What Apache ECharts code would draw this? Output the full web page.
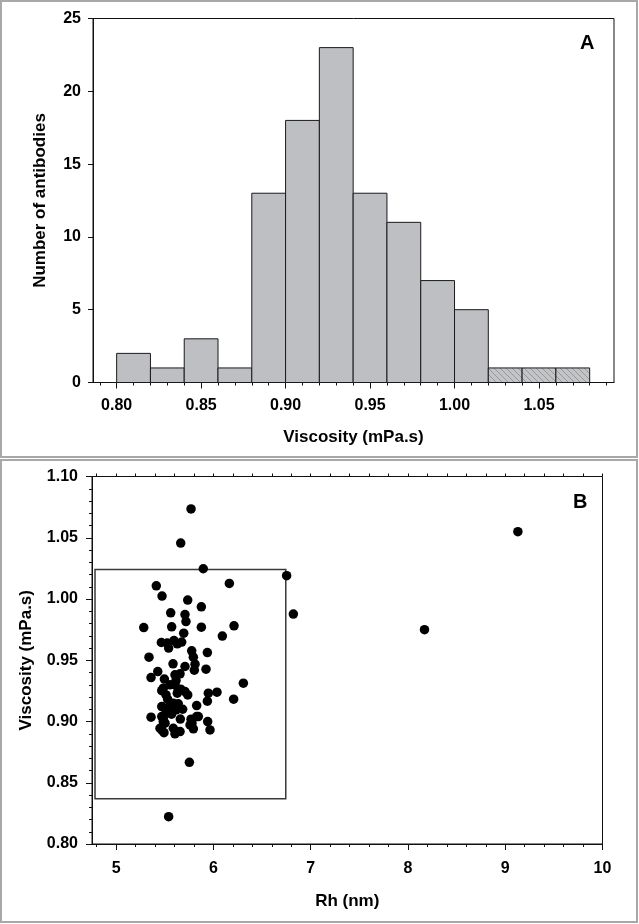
<!DOCTYPE html>
<html>
<head>
<meta charset="utf-8">
<script src="https://cdn.jsdelivr.net/npm/echarts@6/dist/echarts.min.js"></script>
<style>
  html, body { margin: 0; padding: 0; background: #ffffff; }
  #chart { width: 639px; height: 924px; }
</style>
</head>
<body>
<div id="chart"></div>
<script>
// ---------- Panel A: histogram data ----------
const histBinStart = [0.80, 0.82, 0.84, 0.86, 0.88, 0.90, 0.92, 0.94, 0.96, 0.98, 1.00, 1.02, 1.04, 1.06];
const histBinEnd   = [0.82, 0.84, 0.86, 0.88, 0.90, 0.92, 0.94, 0.96, 0.98, 1.00, 1.02, 1.04, 1.06, 1.08];
const histCounts   = [2, 1, 3, 1, 13, 18, 23, 13, 11, 7, 5, 1, 1, 1];
const histHatched  = [0, 0, 0, 0, 0, 0, 0, 0, 0, 0, 0, 1, 1, 1];

const histXTicks = [0.80, 0.85, 0.90, 0.95, 1.00, 1.05];
const histXMinorTicks = [0.79, 0.80, 0.81, 0.82, 0.83, 0.84, 0.85, 0.86, 0.87, 0.88, 0.89, 0.90,
  0.91, 0.92, 0.93, 0.94, 0.95, 0.96, 0.97, 0.98, 0.99, 1.00, 1.01, 1.02, 1.03, 1.04, 1.05,
  1.06, 1.07, 1.08, 1.09];
const histYTicks = [0, 5, 10, 15, 20, 25];

// ---------- Panel B: scatter data ----------
const rhValues = [
  5.77, 5.664, 5.896, 6.753, 5.413, 6.164, 5.472, 5.736, 5.876, 6.822,
  5.561, 5.708, 5.718, 5.284, 5.571, 5.876, 6.212, 5.695, 6.092, 5.465,
  5.526, 5.595, 5.629, 5.674, 5.54, 5.777, 5.794, 5.938, 5.338, 5.585,
  5.708, 5.811, 5.924, 5.428, 5.804, 5.359, 5.496, 5.605, 5.657, 5.554,
  5.616, 6.308, 5.469, 5.513, 5.629, 5.664, 5.708, 5.736, 5.948, 6.037,
  5.938, 6.208, 5.828, 5.469, 5.554, 5.639, 5.616, 5.684, 5.513, 5.359,
  5.485, 5.503, 5.77, 5.828, 5.76, 5.941, 5.451, 5.588, 5.794, 5.965,
  5.492, 5.605, 5.657, 5.753, 5.54, 8.17, 9.13, 5.485, 5.605, 5.639,
  5.588, 5.469, 5.485, 5.469, 5.78, 5.845, 5.53, 5.57, 5.66, 5.52
];
const viscValues = [
  1.0735, 1.0457, 1.0247, 1.019, 1.0108, 1.0127, 1.0024, 0.9991, 0.9936, 0.9877,
  0.9887, 0.9873, 0.9816, 0.9767, 0.9773, 0.9770, 0.9781, 0.9721, 0.9697, 0.9645,
  0.9640, 0.9661, 0.9634, 0.9648, 0.9599, 0.9577, 0.9525, 0.9563, 0.9525, 0.9471,
  0.9449, 0.9468, 0.9427, 0.9408, 0.9419, 0.9359, 0.9346, 0.9381, 0.9389, 0.9299,
  0.9334, 0.9313, 0.9252, 0.9217, 0.9231, 0.9264, 0.9244, 0.9217, 0.9231, 0.9239,
  0.9166, 0.9182, 0.9130, 0.9122, 0.9130, 0.9144, 0.9095, 0.9100, 0.9073, 0.9035,
  0.9027, 0.8986, 0.9019, 0.9040, 0.8972, 0.8999, 0.8945, 0.8945, 0.8940, 0.8931,
  0.8909, 0.8899, 0.8918, 0.8667, 0.8223, 0.975, 1.055, 0.9272, 0.9299, 0.9258,
  0.9148, 0.9040, 0.8999, 0.8931, 0.8986, 0.9040, 0.9180, 0.9060, 0.9020, 0.9100
];
const boxRh = [4.783, 6.744];
const boxVisc = [0.837, 1.024];

const scatXTicks = [5, 6, 7, 8, 9, 10];
const scatXMinorTicks = [4.8, 5.0, 5.2, 5.4, 5.6, 5.8, 6.0, 6.2, 6.4, 6.6, 6.8, 7.0, 7.2, 7.4,
  7.6, 7.8, 8.0, 8.2, 8.4, 8.6, 8.8, 9.0, 9.2, 9.4, 9.6, 9.8, 10.0];

// ---------- hatch pattern ----------
function makeHatch() {
  const c = document.createElement('canvas');
  c.width = 6; c.height = 6;
  const g = c.getContext('2d');
  g.fillStyle = '#c3c4c7';
  g.fillRect(0, 0, 6, 6);
  g.strokeStyle = '#858585';
  g.lineWidth = 0.7;
  g.beginPath();
  g.moveTo(-1, -1); g.lineTo(7, 7);
  g.moveTo(-1, 5); g.lineTo(1, 7);
  g.moveTo(5, -1); g.lineTo(7, 1);
  g.stroke();
  return { image: c, repeat: 'repeat' };
}
const hatchFill = makeHatch();

const FONT = "'Liberation Sans', Arial, sans-serif";
const histData = histBinStart.map((s, i) => [s, histBinEnd[i], histCounts[i], histHatched[i]]);
const scatData = rhValues.map((r, i) => [r, viscValues[i]]);

const chart = echarts.init(document.getElementById('chart'), null, { renderer: 'canvas' });

const labelStyle = { color: '#000', fontFamily: FONT, fontWeight: 'bold', fontSize: 16 };
const nameStyle = { color: '#000', fontFamily: FONT, fontWeight: 'bold', fontSize: 17 };

const option = {
  backgroundColor: '#ffffff',
  animation: false,
  textStyle: { fontFamily: FONT },
  graphic: [
    { type: 'rect', shape: { x: 1, y: 1, width: 636, height: 456 }, style: { fill: 'none', stroke: '#a8a8a8', lineWidth: 2 }, z: 100 },
    { type: 'rect', shape: { x: 1, y: 460, width: 636, height: 462 }, style: { fill: 'none', stroke: '#a8a8a8', lineWidth: 2 }, z: 100 },
    { type: 'text', left: 580, top: 33, style: { text: 'A', font: 'bold 20px ' + FONT, fill: '#000' } },
    { type: 'text', left: 573, top: 492, style: { text: 'B', font: 'bold 20px ' + FONT, fill: '#000' } }
  ],
  grid: [
    { left: 93, right: 25, top: 18.5, height: 364, show: true, borderColor: '#111', borderWidth: 1, backgroundColor: 'transparent', outerBoundsMode: 'none' },
    { left: 92, right: 36.5, top: 476.5, height: 367.5, show: true, borderColor: '#111', borderWidth: 1, backgroundColor: 'transparent', outerBoundsMode: 'none' }
  ],
  xAxis: [
    { // A major
      type: 'value', gridIndex: 0, position: 'bottom', min: 0.786, max: 1.0944,
      name: 'Viscosity (mPa.s)', nameLocation: 'middle', nameGap: 46, nameTextStyle: nameStyle, nameMoveOverlap: false,
      axisLine: { show: true, onZero: false, lineStyle: { color: '#111', width: 1 } },
      axisTick: { show: true, inside: false, length: 6, lineStyle: { color: '#111' }, customValues: histXTicks },
      axisLabel: Object.assign({ margin: 15, customValues: histXTicks, formatter: v => v.toFixed(2) }, labelStyle),
      splitLine: { show: false }
    },
    { // A minor ticks
      type: 'value', gridIndex: 0, position: 'bottom', min: 0.786, max: 1.0944,
      axisLine: { show: false, onZero: false },
      axisTick: { show: true, inside: false, length: 3, lineStyle: { color: '#111' }, customValues: histXMinorTicks },
      axisLabel: { show: false },
      splitLine: { show: false }
    },
    { // B major
      type: 'value', gridIndex: 1, position: 'bottom', min: 4.752, max: 10.0,
      name: 'Rh (nm)', nameLocation: 'middle', nameGap: 49, nameTextStyle: nameStyle, nameMoveOverlap: false,
      axisLine: { show: true, onZero: false, lineStyle: { color: '#111', width: 1 } },
      axisTick: { show: true, inside: false, length: 6, lineStyle: { color: '#111' }, customValues: scatXTicks },
      axisLabel: Object.assign({ margin: 17, customValues: scatXTicks, formatter: v => String(Math.round(v)) }, labelStyle),
      splitLine: { show: false }
    },
    { // B minor ticks bottom
      type: 'value', gridIndex: 1, position: 'bottom', min: 4.752, max: 10.0,
      axisLine: { show: false, onZero: false },
      axisTick: { show: true, inside: false, length: 3, lineStyle: { color: '#111' }, customValues: scatXMinorTicks },
      axisLabel: { show: false },
      splitLine: { show: false }
    },
    { // B minor ticks top
      type: 'value', gridIndex: 1, position: 'top', min: 4.752, max: 10.0,
      axisLine: { show: false, onZero: false },
      axisTick: { show: true, inside: false, length: 3, lineStyle: { color: '#111' }, customValues: scatXMinorTicks },
      axisLabel: { show: false },
      splitLine: { show: false }
    }
  ],
  yAxis: [
    {
      type: 'value', gridIndex: 0, min: 0, max: 25, interval: 5,
      name: 'Number of antibodies', nameLocation: 'middle', nameGap: 44, nameTextStyle: nameStyle, nameMoveOverlap: false,
      axisLine: { show: true, onZero: false, lineStyle: { color: '#111', width: 1 } },
      axisTick: { show: true, inside: false, length: 5, lineStyle: { color: '#111' } },
      axisLabel: Object.assign({ margin: 12, formatter: v => String(Math.round(v)) }, labelStyle),
      splitLine: { show: false }
    },
    {
      type: 'value', gridIndex: 1, min: 0.80, max: 1.10, interval: 0.05,
      name: 'Viscosity (mPa.s)', nameLocation: 'middle', nameGap: 57, nameTextStyle: nameStyle, nameMoveOverlap: false,
      axisLine: { show: true, onZero: false, lineStyle: { color: '#111', width: 1 } },
      axisTick: { show: true, inside: false, length: 6, lineStyle: { color: '#111' } },
      minorTick: { show: true, splitNumber: 5, length: 3, lineStyle: { color: '#111' } },
      axisLabel: Object.assign({ margin: 14, formatter: v => v.toFixed(2) }, labelStyle),
      splitLine: { show: false }
    }
  ],
  series: [
    {
      type: 'custom', xAxisIndex: 0, yAxisIndex: 0,
      encode: { x: [0, 1], y: [2] },
      data: histData,
      renderItem: function (params, api) {
        const p0 = api.coord([api.value(0), api.value(2)]);
        const p1 = api.coord([api.value(1), 0]);
        return {
          type: 'rect',
          shape: { x: p0[0], y: p0[1], width: p1[0] - p0[0], height: p1[1] - p0[1] },
          style: { fill: api.value(3) ? hatchFill : '#bebfc3', stroke: '#1a1a1a', lineWidth: 1 }
        };
      },
      z: 3
    },
    {
      type: 'scatter', xAxisIndex: 2, yAxisIndex: 1,
      data: scatData,
      symbol: 'circle', symbolSize: 9.5,
      itemStyle: { color: '#000000', opacity: 1 },
      silent: true,
      markArea: {
        silent: true,
        itemStyle: { color: 'rgba(0,0,0,0)', borderColor: '#3a3a3a', borderWidth: 1.5 },
        data: [[{ coord: [boxRh[0], boxVisc[1]] }, { coord: [boxRh[1], boxVisc[0]] }]]
      },
      z: 3
    }
  ]
};
chart.setOption(option);
</script>
</body>
</html>
